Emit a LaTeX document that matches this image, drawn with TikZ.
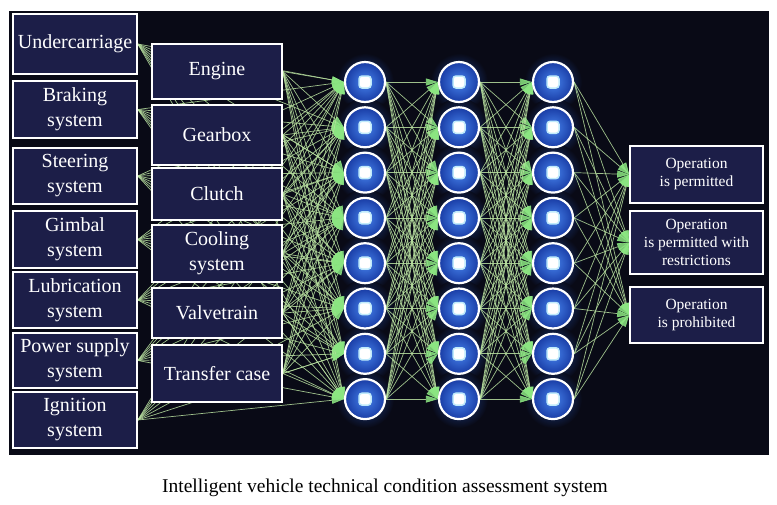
\documentclass[tikz,border=0pt]{standalone}
\usepackage{fontspec}
\setmainfont{Liberation Serif}
\usetikzlibrary{arrows.meta,positioning}
\pgfdeclarelayer{background}
\pgfdeclarelayer{edges}
\pgfsetlayers{background,edges,main}

\definecolor{bgdark}{RGB}{9,10,22}
\definecolor{boxnavy}{RGB}{28,30,72}
\definecolor{linkgreen}{RGB}{185,225,160}
\definecolor{tipgreen}{RGB}{140,230,130}
\definecolor{neuronin}{RGB}{70,130,235}
\definecolor{neuronout}{RGB}{25,60,165}
\definecolor{glowblue}{RGB}{40,90,200}

\tikzset{
  inbox/.style={draw=white, line width=1.6pt, fill=boxnavy, text=white,
    minimum width=124, inner sep=0pt, align=center,
    font=\fontsize{20}{25}\selectfont},
  partbox/.style={inbox, minimum width=130},
  outbox/.style={inbox, minimum width=133, font=\fontsize{15.5}{18}\selectfont},
  neuron/.style={circle, draw=white, line width=2.2pt, minimum size=40,
    inner sep=0pt, inner color=neuronin, outer color=neuronout},
  core/.style={fill=white, draw=white!75!cyan, line width=1.5pt,
    rounded corners=3pt, minimum size=12, inner sep=0pt},
  link/.style={draw=linkgreen, line width=0.7pt, opacity=0.85,
    -{Triangle[length=12pt,width=7pt,color=tipgreen]}},
  caption/.style={font=\fontsize{19.5}{22}\selectfont, text=black}
}

\begin{document}
\begin{tikzpicture}[x=1pt,y=-1pt]
    % Page and dark panel
    \useasboundingbox (0,0) rectangle (777,504);
    \begin{pgfonlayer}{background}
        \fill[bgdark] (9,11) rectangle (769,455);
    \end{pgfonlayer}
    % Vehicle systems
    \foreach \t/\y/\h [count=\i] in {Undercarriage/44/60, Braking\\system/109.5/57,
        Steering\\system/176/56, Gimbal\\system/239.5/57, Lubrication\\system/300/56,
        Power supply\\system/360.5/55, Ignition\\system/420/56}
        \node[inbox, minimum height=\h] (in\i) at (75,\y) {\t};
    % Engine parts
    \foreach \t/\y/\h [count=\i] in {Engine/71.5/55, Gearbox/135/60, Clutch/194/52,
        Cooling\\system/253.5/57, Valvetrain/313/50, Transfer case/373.5/57}
        \node[partbox, minimum height=\h] (f\i) at (217,\y) {\t};
    % Hidden layers
    \foreach \c/\x in {1/365,2/459,3/553}
        \foreach \r in {1,...,8} {
            \begin{pgfonlayer}{background}
                \shade[inner color=glowblue, outer color=bgdark, opacity=0.7]
                    (\x,{82+45.3*(\r-1)}) circle (29);
            \end{pgfonlayer}
            \node[neuron] (n\c-\r) at (\x,{82+45.3*(\r-1)}) {};
            \node[core] (c\c-\r) at (n\c-\r) {};
        }
    % Decisions
    \foreach \t/\y/\h [count=\i] in {Operation\\is permitted/174.5/57,
        Operation\\is permitted with\\restrictions/242.5/63,
        Operation\\is prohibited/315/56}
        \node[outbox, minimum height=\h] (o\i) at (696.5,\y) {\t};
    % Connections
    \begin{pgfonlayer}{edges}
        \foreach \i in {1,...,7}
            \foreach \j in {1,...,8}
                \draw[link] (in\i.east) -- (n1-\j.west);
        \foreach \i in {1,...,6}
            \foreach \j in {1,...,8}
                \draw[link] (f\i.east) -- (n1-\j.west);
        \foreach \i in {1,...,8}
            \foreach \j in {1,...,8} {
                \draw[link] (n1-\i.east) -- (n2-\j.west);
                \draw[link] (n2-\i.east) -- (n3-\j.west);
            }
        \foreach \i in {1,...,8}
            \foreach \j in {1,2,3}
                \draw[link] (n3-\i.east) -- (o\j.west);
    \end{pgfonlayer}
    % Caption
    \node[caption] (title) at (385,488)
        {Intelligent vehicle technical condition assessment system};
\end{tikzpicture}
\end{document}
